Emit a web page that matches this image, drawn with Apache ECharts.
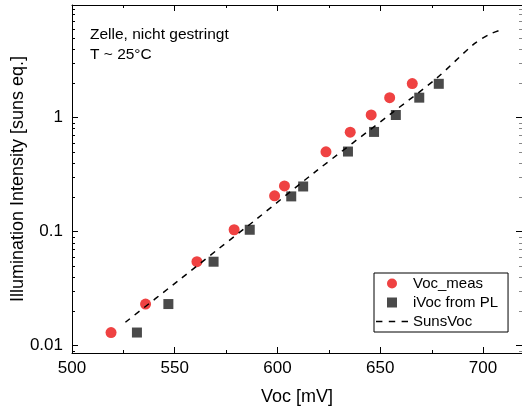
<!DOCTYPE html>
<html>
<head>
<meta charset="utf-8">
<script src="https://cdn.jsdelivr.net/npm/echarts@6/dist/echarts.min.js"></script>
<style>
html,body{margin:0;padding:0;background:#fff;}
#chart{width:522px;height:412px;}
</style>
</head>
<body>
<div id="chart"></div>
<script>
// ---- data ----
const vocMeasX = [519.0, 535.8, 560.8, 578.9, 598.6, 603.4, 623.6, 635.4, 645.6, 654.6, 665.6];
const vocMeasY = [0.0130, 0.0231, 0.0543, 0.1035, 0.2055, 0.251, 0.499, 0.742, 1.05, 1.49, 1.98];
const iVocX = [531.6, 546.9, 568.9, 586.5, 606.7, 612.5, 634.3, 647.0, 657.6, 669.0, 678.5];
const iVocY = [0.0130, 0.0231, 0.0543, 0.1035, 0.203, 0.248, 0.502, 0.746, 1.05, 1.49, 1.97];
const sunsX = [526.0, 551.7, 571.1, 589.7, 617.6, 655.6, 677.4, 695.1, 703.2, 709.7];
const sunsY = [0.0160, 0.037, 0.070, 0.128, 0.325, 1.09, 2.20, 4.32, 5.35, 5.92];
const seriesNames = ['Voc_meas', 'iVoc from PL', 'SunsVoc'];
const xMinorTicks = [525, 575, 625, 675];
const yMinorTicks = [0.009, 0.02, 0.03, 0.04, 0.05, 0.06, 0.07, 0.08, 0.09,
                     0.2, 0.3, 0.4, 0.5, 0.6, 0.7, 0.8, 0.9,
                     2, 3, 4, 5, 6, 7, 8, 9];
const noteLines = ['Zelle, nicht gestringt', 'T ~ 25°C'];
const xTitle = 'Voc [mV]';
const yTitle = 'Illumination Intensity [suns eq.]';

const X_MIN = 500, X_MAX = 719, Y_MIN = 0.0086, Y_MAX = 9.67;
const FONT = "'Liberation Sans', Arial, sans-serif";

const zip = (xs, ys) => xs.map((x, i) => [x, ys[i]]);
const tickData = xMinorTicks.map(v => [v, 1, 0]).concat(yMinorTicks.map(v => [600, v, 1]));

function isDecade(v) {
  const l = Math.log10(v);
  return Math.abs(l - Math.round(l)) < 1e-6;
}

const chart = echarts.init(document.getElementById('chart'), null, {renderer: 'canvas'});
chart.setOption({
  animation: false,
  backgroundColor: '#fff',
  textStyle: {fontFamily: FONT, color: '#000'},
  grid: {left: 72, top: 5, right: 0, bottom: 59, containLabel: false, outerBoundsMode: 'none'},
  xAxis: [{
    type: 'value', min: X_MIN, max: X_MAX, interval: 50,
    name: xTitle, nameLocation: 'middle', nameGap: 35, nameMoveOverlap: false,
    nameTextStyle: {fontSize: 18, color: '#000', fontFamily: FONT},
    axisLine: {show: true, onZero: false, lineStyle: {color: '#000', width: 1}},
    axisTick: {show: true, inside: true, length: 6, lineStyle: {color: '#000'}},
    axisLabel: {fontSize: 17, color: '#000', margin: 7, fontFamily: FONT,
      formatter: v => (v % 50 === 0 ? String(v) : '')},
    splitLine: {show: false}
  }, {
    type: 'value', position: 'top', min: X_MIN, max: X_MAX, interval: 50,
    axisLine: {show: true, onZero: false, lineStyle: {color: '#000', width: 1}},
    axisTick: {show: true, inside: true, length: 6, lineStyle: {color: '#000'}},
    axisLabel: {show: false}, splitLine: {show: false}
  }],
  yAxis: [{
    type: 'log', logBase: 10, min: Y_MIN, max: Y_MAX,
    name: yTitle, nameLocation: 'middle', nameGap: 45, nameRotate: 90, nameMoveOverlap: false,
    nameTextStyle: {fontSize: 18, color: '#000', fontFamily: FONT},
    axisLine: {show: true, onZero: false, lineStyle: {color: '#000', width: 1}},
    axisTick: {show: true, inside: true, length: 6, lineStyle: {color: '#000'}},
    axisLabel: {fontSize: 17, color: '#000', margin: 9, fontFamily: FONT,
      formatter: v => (isDecade(v) ? String(+v.toPrecision(6)) : '')},
    splitLine: {show: false}
  }, {
    type: 'log', logBase: 10, min: Y_MIN, max: Y_MAX, position: 'right',
    axisLine: {show: true, onZero: false, lineStyle: {color: '#000', width: 1}},
    axisTick: {show: true, inside: true, length: 6, lineStyle: {color: '#000'}},
    axisLabel: {show: false}, splitLine: {show: false}
  }],
  legend: {
    orient: 'vertical', left: 374, top: 273,
    data: [
      {name: seriesNames[0], icon: 'circle'},
      {name: seriesNames[1], icon: 'path://M0,0L10,0L10,10L0,10Z'},
      {name: seriesNames[2], icon: 'path://M0,0L6,0L6,1.3L0,1.3Z M12,0L18,0L18,1.3L12,1.3Z M24,0L30,0L30,1.3L24,1.3Z'}
    ],
    symbolKeepAspect: true,
    backgroundColor: '#fff',
    borderColor: '#000', borderWidth: 1,
    padding: [3, 10, 3, 2],
    itemWidth: 32, itemHeight: 10, itemGap: 4,
    textStyle: {fontSize: 15, color: '#000', fontFamily: FONT, lineHeight: 14}
  },
  graphic: [{
    type: 'text', left: 90, top: 25,
    style: {text: noteLines.join('\n'), fontSize: 15.5, lineHeight: 20, fill: '#000', fontFamily: FONT}
  }],
  series: [{
    name: seriesNames[0], type: 'scatter', symbol: 'circle', symbolSize: 11,
    itemStyle: {color: '#EF4242', opacity: 1}, data: zip(vocMeasX, vocMeasY), z: 3
  }, {
    name: seriesNames[1], type: 'scatter', symbol: 'rect', symbolSize: 10,
    itemStyle: {color: '#4A4A4A', opacity: 1}, data: zip(iVocX, iVocY), z: 3
  }, {
    name: seriesNames[2], type: 'line', smooth: 0.3, showSymbol: false, symbol: 'none',
    lineStyle: {color: '#000', width: 1.5, type: [6, 6]},
    itemStyle: {color: '#000'},
    data: zip(sunsX, sunsY), z: 4
  }, {
    type: 'custom', silent: true, clip: false, z: 5,
    renderItem: function (params, api) {
      const cs = params.coordSys;
      const kind = api.value(2);
      const style = {stroke: '#000', lineWidth: 1};
      if (kind === 0) {
        const x = Math.round(api.coord([api.value(0), 1])[0]) + 0.5;
        return {type: 'group', children: [
          {type: 'line', shape: {x1: x, y1: cs.y + cs.height, x2: x, y2: cs.y + cs.height - 3}, style: style},
          {type: 'line', shape: {x1: x, y1: cs.y, x2: x, y2: cs.y + 3}, style: style}
        ]};
      }
      const y = Math.round(api.coord([600, api.value(1)])[1]) + 0.5;
      return {type: 'group', children: [
        {type: 'line', shape: {x1: cs.x, y1: y, x2: cs.x + 3, y2: y}, style: style},
        {type: 'line', shape: {x1: cs.x + cs.width, y1: y, x2: cs.x + cs.width - 3, y2: y}, style: {stroke: '#888', lineWidth: 1}}
      ]};
    },
    data: tickData
  }]
});
</script>
</body>
</html>
